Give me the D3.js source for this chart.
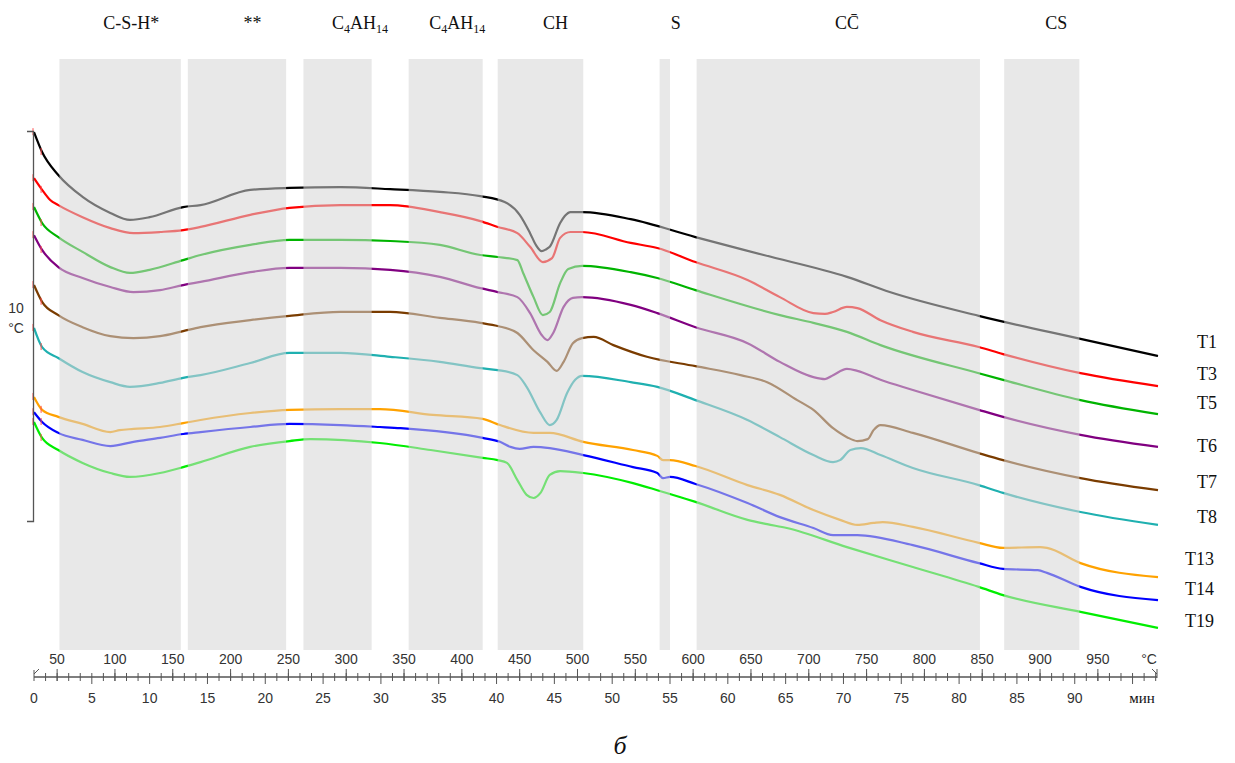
<!DOCTYPE html>
<html>
<head>
<meta charset="utf-8">
<script src="https://cdn.jsdelivr.net/npm/d3@7"></script>
<style>
  body { margin: 0; background: #fff; }
  svg { display: block; }
</style>
</head>
<body>
<svg id="chart"></svg>
<script>
// time (min) / ΔT (°C) pairs
const t1 = [[0,9.97],[0.7,9.46],[2.1,8.87],[4.2,8.31],[6.6,7.90],[8.3,7.72],[10.0,7.79],[12.9,8.05],[14.4,8.10],[18.7,8.49],[22.1,8.54],[26.5,8.56],[30.8,8.51],[35.1,8.44],[38.6,8.33],[40.7,8.18],[42.0,7.85],[42.9,7.38],[43.4,7.08],[43.9,6.92],[44.3,6.97],[44.6,7.03],[45.5,7.64],[45.9,7.82],[46.4,7.92],[47.4,7.92],[51.6,7.74],[57.2,7.28],[63.1,6.82],[70.3,6.26],[74.0,5.87],[81.7,5.26],[90.5,4.67],[97.2,4.23]];
const t3 = [[0,8.79],[0.7,8.49],[1.4,8.23],[2.1,8.10],[4.2,7.79],[6.6,7.51],[8.6,7.38],[10.9,7.41],[12.9,7.46],[14.4,7.54],[18.7,7.85],[22.1,8.03],[26.5,8.10],[30.8,8.10],[35.1,7.92],[38.6,7.69],[40.1,7.54],[41.8,7.38],[42.9,7.03],[44.0,6.64],[44.8,6.74],[45.5,7.26],[46.4,7.41],[47.4,7.41],[51.6,7.13],[53.9,7.00],[57.2,6.64],[61.7,6.18],[64.5,5.74],[67.4,5.33],[68.4,5.31],[69.1,5.36],[70.3,5.49],[71.2,5.46],[73.2,5.15],[76.0,4.85],[81.7,4.46],[83.8,4.28],[90.5,3.79],[97.2,3.46]];
const t5 = [[0,8.05],[0.7,7.64],[2.1,7.28],[4.2,6.90],[6.6,6.51],[8.3,6.36],[10.0,6.44],[12.9,6.69],[14.4,6.82],[18.7,7.08],[22.1,7.21],[26.5,7.21],[30.8,7.18],[35.1,7.08],[38.6,6.82],[40.1,6.77],[41.8,6.69],[42.3,6.36],[43.2,5.74],[44.0,5.28],[44.6,5.36],[45.5,6.10],[46.2,6.46],[47.4,6.54],[51.6,6.38],[53.9,6.23],[57.2,5.92],[64.5,5.28],[67.4,5.08],[70.3,4.85],[73.2,4.51],[81.7,3.79],[83.8,3.62],[90.5,3.10],[97.2,2.74]];
const t6 = [[0,7.33],[0.7,6.95],[2.1,6.51],[4.2,6.23],[6.6,6.00],[8.6,5.87],[10.9,5.92],[12.9,6.05],[14.4,6.13],[18.7,6.38],[22.1,6.49],[26.5,6.49],[30.8,6.44],[35.1,6.26],[38.6,5.97],[40.1,5.87],[41.8,5.74],[42.9,5.33],[43.9,4.77],[44.4,4.64],[44.9,4.82],[45.8,5.49],[46.6,5.72],[47.4,5.74],[51.6,5.54],[53.9,5.33],[57.2,4.97],[61.7,4.56],[64.5,4.08],[67.4,3.69],[68.4,3.64],[69.1,3.74],[70.3,3.90],[71.2,3.85],[73.2,3.62],[76.0,3.36],[81.7,2.85],[83.8,2.67],[90.5,2.21],[97.2,1.90]];
const t7 = [[0,6.05],[0.7,5.62],[2.1,5.28],[4.2,4.97],[6.6,4.74],[8.6,4.69],[10.9,4.74],[12.9,4.87],[14.4,4.97],[18.7,5.15],[22.1,5.26],[26.5,5.36],[30.8,5.36],[35.1,5.21],[38.6,5.08],[40.1,5.00],[41.8,4.82],[43.2,4.38],[44.4,4.08],[45.2,3.85],[45.8,4.08],[46.6,4.56],[47.4,4.69],[48.4,4.72],[50.1,4.51],[53.0,4.21],[57.2,3.97],[61.1,3.74],[63.4,3.56],[66.0,3.10],[67.4,2.85],[69.1,2.38],[70.3,2.15],[71.2,2.05],[72.1,2.10],[72.6,2.33],[73.2,2.46],[76.0,2.26],[81.7,1.74],[83.8,1.56],[90.5,1.10],[97.2,0.79]];
const t8 = [[0,4.95],[0.7,4.46],[2.1,4.18],[4.2,3.82],[6.6,3.56],[8.3,3.44],[10.9,3.54],[12.9,3.67],[14.4,3.74],[18.7,4.05],[22.1,4.31],[26.5,4.31],[30.8,4.21],[35.1,4.08],[38.6,3.92],[40.1,3.87],[41.8,3.74],[42.6,3.44],[43.8,2.77],[44.6,2.46],[45.2,2.59],[46.1,3.28],[46.8,3.62],[47.4,3.72],[51.6,3.56],[53.9,3.44],[57.2,3.10],[61.7,2.59],[64.5,2.15],[67.4,1.69],[69.1,1.51],[69.7,1.56],[70.6,1.82],[71.5,1.87],[73.2,1.69],[76.0,1.36],[81.7,0.92],[83.8,0.72],[90.5,0.23],[97.2,-0.10]];
const t13 = [[0,3.18],[0.7,2.85],[2.1,2.67],[4.2,2.49],[6.6,2.28],[7.4,2.33],[8.6,2.36],[10.9,2.41],[12.9,2.51],[14.4,2.59],[18.7,2.77],[22.1,2.85],[26.5,2.87],[29.9,2.87],[34.5,2.72],[38.8,2.62],[40.3,2.46],[43.2,2.26],[44.6,2.26],[47.5,2.03],[51.8,1.82],[53.9,1.67],[54.4,1.56],[55.0,1.56],[57.2,1.41],[61.7,0.92],[64.5,0.67],[67.4,0.28],[69.7,0.03],[71.2,-0.10],[72.6,-0.05],[73.4,-0.03],[76.0,-0.15],[81.7,-0.56],[83.8,-0.69],[87.0,-0.67],[87.6,-0.69],[90.5,-1.08],[97.2,-1.44]];
const t14 = [[0,2.79],[0.7,2.54],[2.1,2.26],[4.2,2.08],[6.6,1.92],[8.6,2.03],[10.9,2.13],[12.9,2.23],[14.4,2.28],[18.7,2.41],[22.1,2.49],[26.5,2.46],[29.9,2.41],[31.7,2.38],[38.8,2.13],[40.3,2.03],[41.2,1.90],[42.0,1.85],[43.2,1.90],[44.6,1.87],[47.5,1.69],[51.8,1.38],[53.9,1.23],[54.4,1.10],[55.0,1.13],[57.2,0.95],[61.7,0.46],[64.5,0.10],[67.4,-0.18],[69.1,-0.36],[71.2,-0.36],[76.0,-0.62],[81.7,-1.08],[83.8,-1.23],[86.8,-1.26],[87.6,-1.33],[90.5,-1.69],[97.2,-2.03]];
const t19 = [[0,2.54],[0.7,2.13],[2.1,1.82],[4.2,1.49],[6.6,1.23],[8.3,1.13],[10.9,1.23],[12.9,1.38],[14.4,1.51],[18.7,1.90],[22.1,2.05],[23.9,2.10],[29.9,2.00],[34.3,1.82],[38.8,1.62],[40.1,1.56],[40.9,1.49],[41.8,1.05],[42.6,0.67],[43.2,0.59],[43.8,0.72],[44.6,1.18],[45.5,1.28],[47.5,1.23],[51.8,0.97],[53.9,0.79],[57.2,0.49],[61.7,0.03],[63.4,-0.08],[65.1,-0.18],[70.3,-0.67],[76.0,-1.18],[81.7,-1.69],[83.8,-1.90],[90.5,-2.33],[97.2,-2.74]];

const seriesNames = ["T1", "T3", "T5", "T6", "T7", "T8", "T13", "T14", "T19"];
const seriesData = [t1, t3, t5, t6, t7, t8, t13, t14, t19];

// shaded temperature ranges (°C) and their phase labels
const bandRanges = [[52, 157], [163, 248], [263, 322], [354, 418], [431, 505], [571, 580], [603, 848], [869, 934]];
const bandLabels = ["C-S-H*", "**", "C4AH14", "C4AH14", "CH", "S", "CC\u0304", "CS"];
const bandLabelTemps = [114, 219, 312, 396, 481, 585, 733, 914];

const minuteTicks = d3.range(0, 91, 5);
const tempTicks = d3.range(50, 951, 50);

// styling / layout
const colors = ["#000000", "#ff0000", "#00b400", "#800080", "#7a3c00", "#1fb0b0", "#ffa200", "#0000ff", "#00ee00"];
const labelDy = [-14, -12, -11, -1, -8, -8, -18, -11, -7];
const labelX = [1197, 1197, 1197, 1197, 1197, 1197, 1185, 1185, 1185];
const width = 1235, height = 763;
const axisY = 677;

const svg = d3.select("#chart").attr("width", width).attr("height", height);

const x = d3.scaleLinear().domain([0, 97.2]).range([34, 1158]);
const xT = d3.scaleLinear().domain([30, 1002]).range([34, 1158]);
const y = d3.scaleLinear().domain([0, 10]).range([521, 131]);

const line = d3.line()
    .x(d => x(d[0]))
    .y(d => y(d[1]))
    .curve(d3.curveMonotoneX);

const curves = svg.append("g");
curves.selectAll("path")
    .data(seriesData)
    .join("path")
    .attr("d", line)
    .attr("fill", "none")
    .attr("stroke", (d, i) => colors[i])
    .attr("stroke-width", 2.2)
    .attr("stroke-linejoin", "round");

// small red start markers
curves.selectAll(".mark")
    .data(seriesData.flatMap(s => [s[0], s[1]]))
    .join("line")
    .attr("class", "mark")
    .attr("x1", d => x(d[0]) - 1).attr("x2", d => x(d[0]) - 1)
    .attr("y1", d => y(d[1]) - 4).attr("y2", d => y(d[1]) + 3)
    .attr("stroke", "#ff5050")
    .attr("stroke-width", 1);

// translucent grey bands drawn over the curves
svg.append("g").selectAll("rect")
    .data(bandRanges)
    .join("rect")
    .attr("x", d => xT(d[0]))
    .attr("width", d => xT(d[1]) - xT(d[0]))
    .attr("y", 59)
    .attr("height", 650 - 59)
    .attr("fill", "#d5d5d5")
    .attr("fill-opacity", 0.55);

// band labels
const bl = svg.append("g")
    .attr("font-family", "'Liberation Serif', 'Times New Roman', serif")
    .attr("font-size", 18)
    .attr("fill", "#111");
bandLabels.forEach((lab, i) => {
    const t = bl.append("text")
        .attr("x", xT(bandLabelTemps[i]))
        .attr("y", 29)
        .attr("text-anchor", "middle");
    if (lab === "C4AH14") {
        t.append("tspan").text("C");
        t.append("tspan").attr("font-size", 12).attr("dy", 4).text("4");
        t.append("tspan").attr("dy", -4).text("AH");
        t.append("tspan").attr("font-size", 12).attr("dy", 4).text("14");
    } else {
        t.text(lab);
    }
});

// series labels on the right
svg.append("g")
    .attr("font-family", "'Liberation Serif', 'Times New Roman', serif")
    .attr("font-size", 18)
    .attr("fill", "#111")
    .selectAll("text")
    .data(seriesNames)
    .join("text")
    .attr("x", (d, i) => labelX[i])
    .attr("y", (d, i) => y(seriesData[i][seriesData[i].length - 1][1]) + labelDy[i] + 6)
    .text(d => d);

// y scale bar
const yAxis = svg.append("g")
    .attr("transform", "translate(33,0)")
    .call(d3.axisLeft(y).tickValues([]).tickSizeOuter(6));
yAxis.select(".domain").attr("stroke", "#555").attr("stroke-width", 1.3);

const yl = svg.append("g")
    .attr("font-family", "'Liberation Sans', Arial, sans-serif")
    .attr("font-size", 14)
    .attr("fill", "#333")
    .attr("text-anchor", "middle");
yl.append("text").attr("x", 16).attr("y", 313).text("10");
yl.append("text").attr("x", 16).attr("y", 333).text("°C");

// bottom time / temperature axis
const ax = svg.append("g").attr("stroke", "#555");
ax.append("line")
    .attr("x1", x(0)).attr("x2", 1157)
    .attr("y1", axisY).attr("y2", axisY)
    .attr("stroke-width", 1.3);
ax.selectAll(".minor")
    .data(d3.range(1, 98))
    .join("line")
    .attr("class", "minor")
    .attr("x1", d => x(d)).attr("x2", d => x(d))
    .attr("y1", axisY - 4)
    .attr("y2", d => d % 5 === 0 ? axisY + 7 : axisY + 4);
ax.selectAll(".tmaj")
    .data(tempTicks)
    .join("line")
    .attr("class", "tmaj")
    .attr("x1", d => xT(d)).attr("x2", d => xT(d))
    .attr("y1", axisY - 8).attr("y2", axisY + 4);
ax.append("path")
    .attr("fill", "none")
    .attr("d", `M${x(0)},${axisY + 4}V${axisY - 7}M${x(0)},${axisY - 3}L${x(0) + 5},${axisY - 8}`);
ax.append("path")
    .attr("fill", "none")
    .attr("d", `M1157,${axisY + 1}V${axisY - 8}M1157,${axisY - 3}L1152,${axisY - 8}`);

const tl = svg.append("g")
    .attr("font-family", "'Liberation Sans', Arial, sans-serif")
    .attr("font-size", 14)
    .attr("fill", "#333")
    .attr("text-anchor", "middle");
tl.selectAll(".tlab")
    .data(tempTicks)
    .join("text")
    .attr("class", "tlab")
    .attr("x", d => xT(d))
    .attr("y", axisY - 13)
    .text(d => d);
tl.append("text").attr("x", 1149).attr("y", axisY - 13).text("°C");
tl.selectAll(".mlab")
    .data(minuteTicks)
    .join("text")
    .attr("class", "mlab")
    .attr("x", d => x(d))
    .attr("y", axisY + 26)
    .text(d => d);
tl.append("text")
    .attr("x", 1142).attr("y", axisY + 26)
    .attr("font-family", "'Liberation Serif', 'Times New Roman', serif")
    .attr("font-size", 15)
    .attr("fill", "#111")
    .text("мин");

svg.append("text")
    .attr("x", 620).attr("y", 754)
    .attr("text-anchor", "middle")
    .attr("font-family", "'Liberation Serif', 'Times New Roman', serif")
    .attr("font-style", "italic")
    .attr("font-size", 26)
    .attr("fill", "#111")
    .text("б");
</script>
</body>
</html>
